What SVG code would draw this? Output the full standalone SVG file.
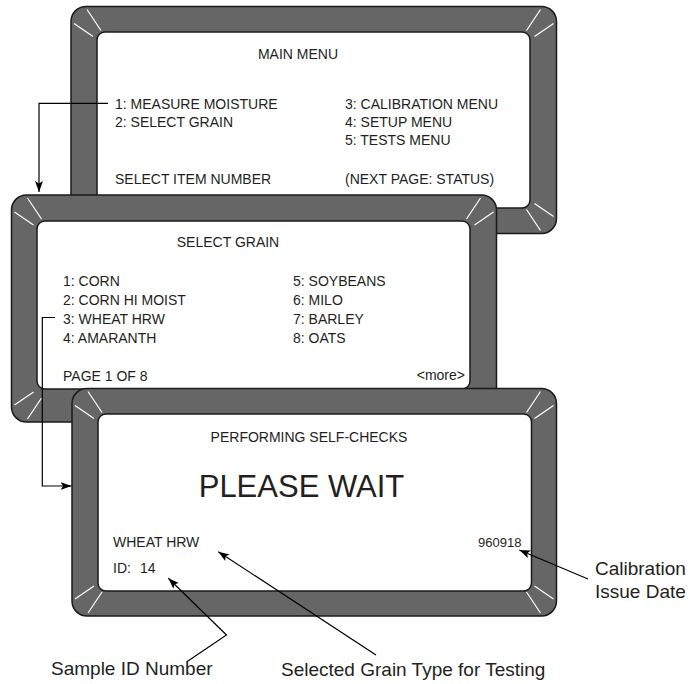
<svg xmlns="http://www.w3.org/2000/svg" xmlns:xlink="http://www.w3.org/1999/xlink" width="696" height="684" viewBox="0 0 696 684">
<style>
.frame{fill:#656665;stroke:#1a1a1a;stroke-width:1.5}
.screen{fill:#ffffff;stroke:#1a1a1a;stroke-width:1.5}
.bevel{stroke:#ffffff;stroke-width:1.2;fill:none}
.t{font-family:"Liberation Sans",Arial,sans-serif;font-size:14px;fill:#231f20}
.big{font-size:31px}
.small{font-size:13px}
.ann{font-family:"Liberation Sans",Arial,sans-serif;font-size:19px;fill:#231f20}
.conn{fill:none;stroke:#000;stroke-width:1.2}
</style>
<defs>
<marker id="ah" markerUnits="userSpaceOnUse" markerWidth="12" markerHeight="8" refX="11" refY="4" orient="auto">
<path d="M0,0 L11,4 L0,8 L2.5,4 Z" fill="#000"/>
</marker>
<g id="corner"><line x1="3" y1="17" x2="22" y2="30"/><line x1="16" y1="3" x2="30" y2="24"/></g>
</defs>

<g id="main-menu">
<rect class="frame" x="71" y="6.5" width="485.5" height="227" rx="15"/>
<rect class="screen" x="97" y="32" width="433" height="176" rx="8"/>
<g class="bevel">
<use xlink:href="#corner" transform="translate(71,6.5)"/>
<use xlink:href="#corner" transform="translate(556.5,6.5) scale(-1,1)"/>
<use xlink:href="#corner" transform="translate(556.5,233.5) scale(-1,-1)"/>
</g>
<text class="t" x="298" y="59" text-anchor="middle">MAIN MENU</text>
<text class="t" x="115" y="109">1: MEASURE MOISTURE</text>
<text class="t" x="115" y="127">2: SELECT GRAIN</text>
<text class="t" x="345" y="109">3: CALIBRATION MENU</text>
<text class="t" x="345" y="127">4: SETUP MENU</text>
<text class="t" x="345" y="145">5: TESTS MENU</text>
<text class="t" x="115" y="184">SELECT ITEM NUMBER</text>
<text class="t" x="345" y="184">(NEXT PAGE: STATUS)</text>
</g>

<g id="select-grain">
<rect class="frame" x="11.5" y="195" width="485" height="227" rx="15"/>
<rect class="screen" x="37" y="221" width="433" height="168" rx="8"/>
<g class="bevel">
<use xlink:href="#corner" transform="translate(11.5,195)"/>
<use xlink:href="#corner" transform="translate(496.5,195) scale(-1,1)"/>
<use xlink:href="#corner" transform="translate(11.5,422) scale(1,-1)"/>
</g>
<text class="t" x="228" y="247" text-anchor="middle">SELECT GRAIN</text>
<text class="t" x="63" y="286">1: CORN</text>
<text class="t" x="63" y="305">2: CORN HI MOIST</text>
<text class="t" x="63" y="323.5">3: WHEAT HRW</text>
<text class="t" x="63" y="342.5">4: AMARANTH</text>
<text class="t" x="293" y="286">5: SOYBEANS</text>
<text class="t" x="293" y="305">6: MILO</text>
<text class="t" x="293" y="323.5">7: BARLEY</text>
<text class="t" x="293" y="342.5">8: OATS</text>
<text class="t" x="63" y="381">PAGE 1 OF 8</text>
<text class="t" x="465" y="380" text-anchor="end">&lt;more&gt;</text>
</g>

<g id="self-checks">
<rect class="frame" x="72" y="388.5" width="484.5" height="227.5" rx="15"/>
<rect class="screen" x="98" y="414" width="433.5" height="177" rx="8"/>
<g class="bevel">
<use xlink:href="#corner" transform="translate(72,388.5)"/>
<use xlink:href="#corner" transform="translate(556.5,388.5) scale(-1,1)"/>
<use xlink:href="#corner" transform="translate(72,616) scale(1,-1)"/>
<use xlink:href="#corner" transform="translate(556.5,616) scale(-1,-1)"/>
</g>
<text class="t" x="309" y="441.5" text-anchor="middle">PERFORMING SELF-CHECKS</text>
<text class="t big" x="301.5" y="496.5" text-anchor="middle">PLEASE WAIT</text>
<text class="t" x="113" y="546.5">WHEAT HRW</text>
<text class="t" x="113" y="573">ID:<tspan x="140">14</tspan></text>
<text class="t small" x="521.5" y="546.5" text-anchor="end">960918</text>
</g>

<g id="connectors">
<polyline class="conn" points="108,103.3 39,103.3 39,192" marker-end="url(#ah)"/>
<polyline class="conn" points="55,317.5 42.3,317.5 42.3,486 71.5,486" marker-end="url(#ah)"/>
<polyline class="conn" points="186.5,662 226.5,635 168.3,578.3" marker-end="url(#ah)"/>
<line class="conn" x1="376" y1="655" x2="218.3" y2="551.7" marker-end="url(#ah)"/>
<line class="conn" x1="588" y1="579" x2="519.3" y2="550" marker-end="url(#ah)"/>
</g>

<g id="annotations">
<text class="ann" x="51" y="675">Sample ID Number</text>
<text class="ann" x="281" y="676">Selected Grain Type for Testing</text>
<text class="ann" x="595" y="575">Calibration</text>
<text class="ann" x="595" y="598">Issue Date</text>
</g>
</svg>
